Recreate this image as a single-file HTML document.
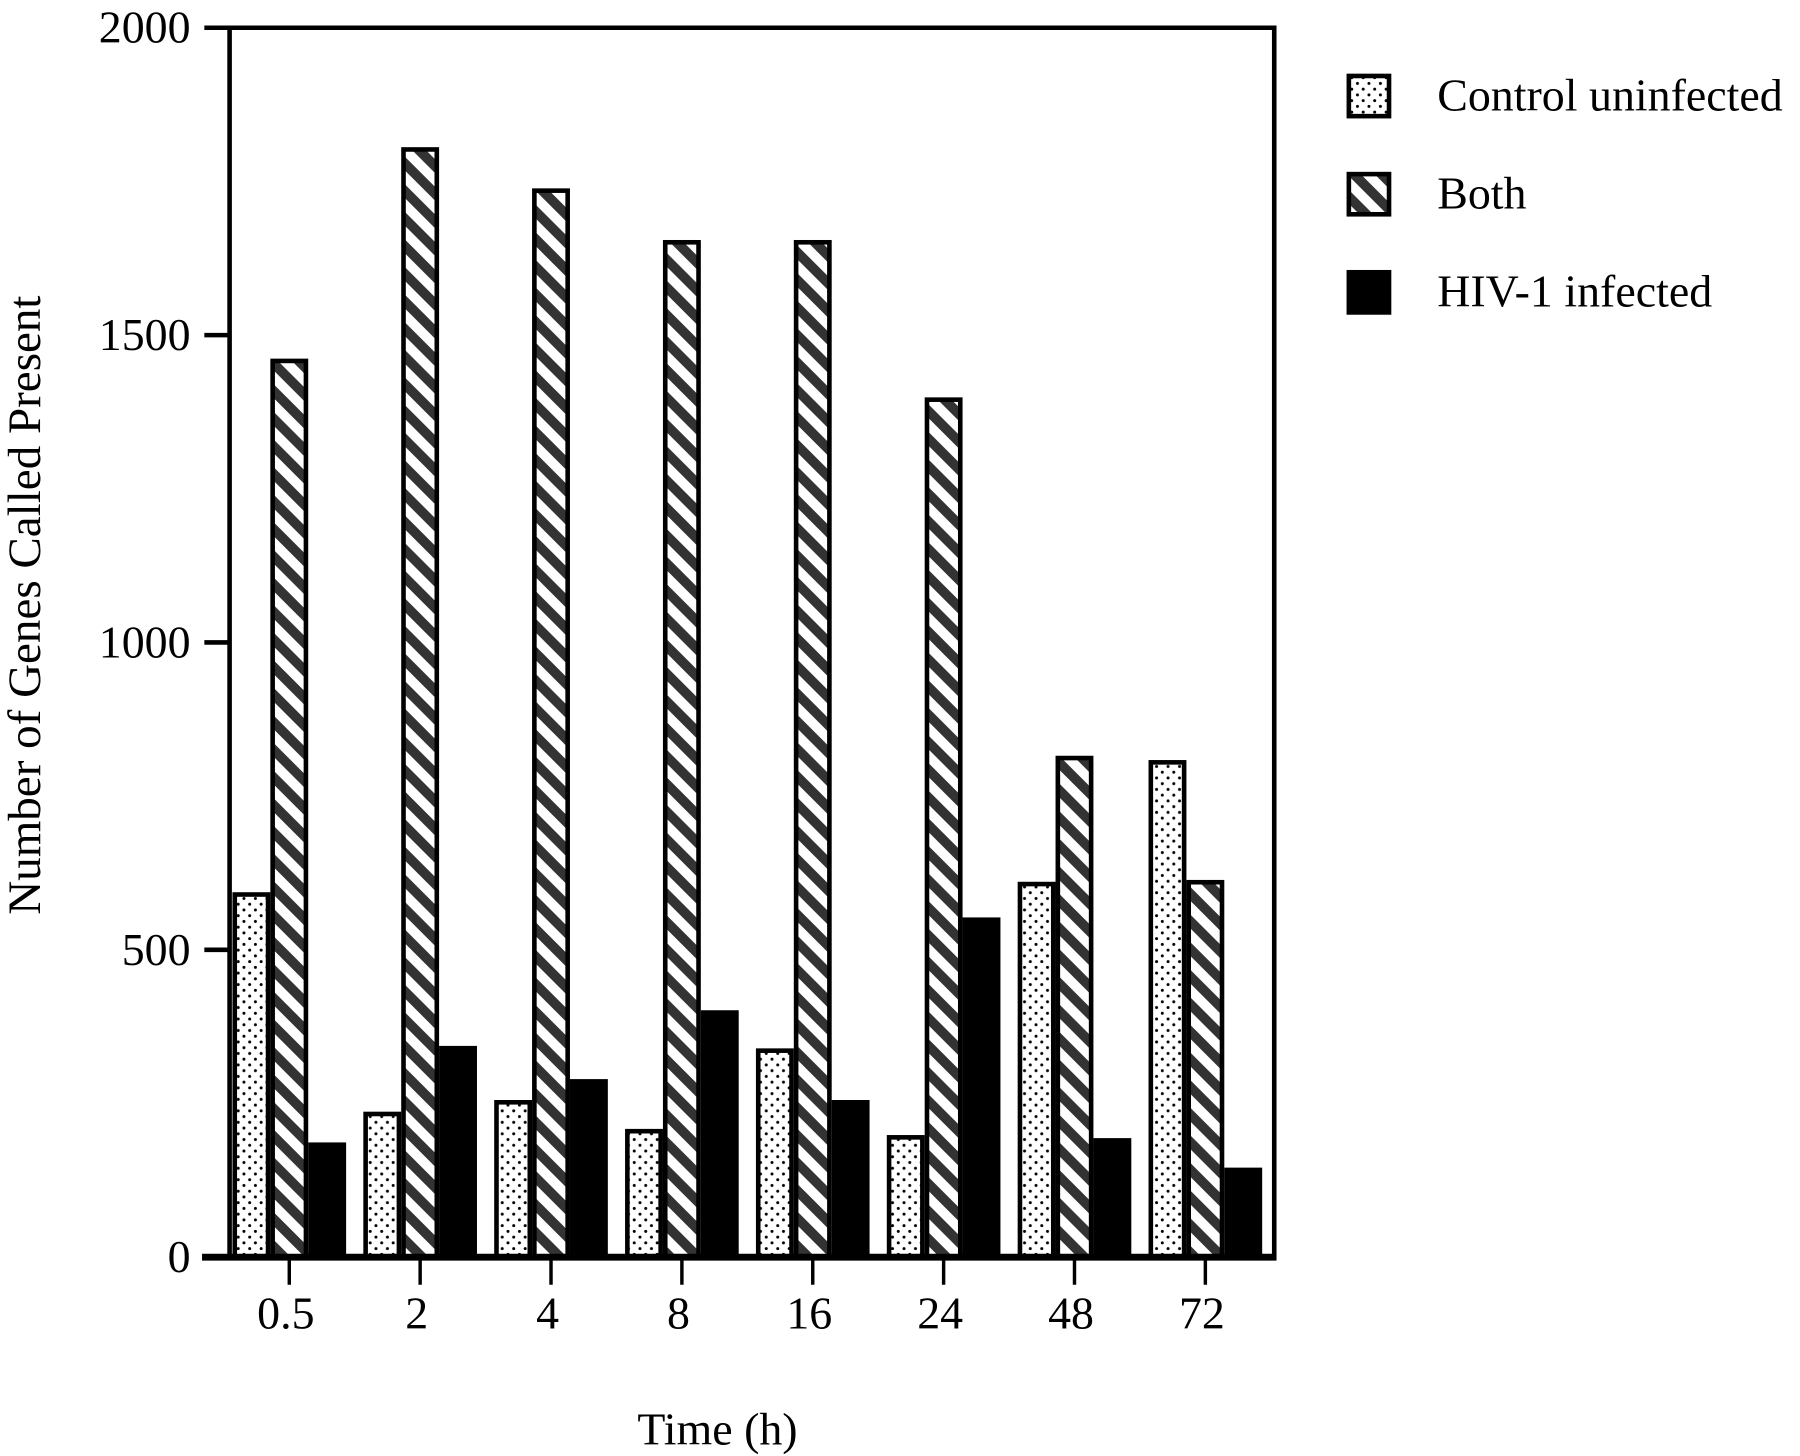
<!DOCTYPE html>
<html><head><meta charset="utf-8"><style>
html,body{margin:0;padding:0;background:#fff;}
svg{display:block;}
text{font-family:"Liberation Serif",serif;fill:#000;}
</style></head><body>
<svg id="chart" width="1800" height="1456" viewBox="0 0 1568 1268" xmlns="http://www.w3.org/2000/svg">
<defs>
<pattern id="dots" patternUnits="userSpaceOnUse" width="10" height="10">
<rect width="10" height="10" fill="#fff"/>
<circle cx="2.5" cy="2.5" r="1.3" fill="#000"/>
<circle cx="7.5" cy="7.5" r="1.3" fill="#000"/>
</pattern>
<pattern id="hatch" patternUnits="userSpaceOnUse" width="17" height="17" patternTransform="rotate(45)">
<rect width="17" height="17" fill="#fff"/>
<rect width="17" height="8.5" fill="#333"/>
</pattern>
</defs>
<g id="plot"></g>
</svg>
<script>
const categories = ["0.5","2","4","8","16","24","48","72"];
const controlValues = [590, 233, 252, 205, 336, 195, 607, 805];
const bothValues = [1458, 1802, 1735, 1651, 1651, 1395, 812, 610];
const hivValues = [183, 340, 286, 398, 252, 549, 190, 142];
const yTicks = [0, 500, 1000, 1500, 2000];
const seriesNames = ["Control uninfected", "Both", "HIV-1 infected"];

const NS = "http://www.w3.org/2000/svg";
const g = document.getElementById('plot');
const X0 = 200, X1 = 1110, Y0 = 1095, Y1 = 24;
const yMax = 2000;
function yScale(v){ return Y0 - v / yMax * (Y0 - Y1); }
function xCenter(i){ return 252 + i * 114; }
function mk(tag, attrs, parent){
  const e = document.createElementNS(NS, tag);
  for (const k in attrs) e.setAttribute(k, attrs[k]);
  (parent || g).appendChild(e);
  return e;
}
const fills = ["url(#dots)", "url(#hatch)", "#000"];
const series = [controlValues, bothValues, hivValues];
const bw = 33;
series.forEach((vals, s) => {
  vals.forEach((v, i) => {
    const x = xCenter(i) - 1.5 * bw + s * bw;
    const y = yScale(v);
    const r = mk('rect', {x: x + 2, y: y, width: bw - 4, height: Y0 - y, fill: fills[s], stroke: '#000', 'stroke-width': 4});
    
    
  });
});
const fr = mk('path', {d: `M${X0} ${Y0} L${X0} ${Y1} L${X1} ${Y1} L${X1} ${Y0}`, fill: 'none', stroke: '#000', 'stroke-width': 4});


const xa = mk('line', {x1: 176, y1: Y0, x2: X1 + 2, y2: Y0, stroke: '#000', 'stroke-width': 6});


yTicks.forEach(t => {
  const y = yScale(t);
  const tl = mk('line', {x1: 178, y1: y, x2: X0, y2: y, stroke: '#000', 'stroke-width': 4});
  
  
  const tx = mk('text', {x: 166, y: y + 13, 'font-size': 40, 'text-anchor': 'end'});
  tx.textContent = t;
  
  
});
categories.forEach((c, i) => {
  const x = xCenter(i);
  const tl = mk('line', {x1: x, y1: Y0, x2: x, y2: 1119, stroke: '#000', 'stroke-width': 3});
  
  
  const tx = mk('text', {x: x - 3, y: 1157, 'font-size': 40, 'text-anchor': 'middle'});
  tx.textContent = c;
  
  
});
const yt = mk('text', {x: 0, y: 0, 'font-size': 41, 'text-anchor': 'middle', transform: 'translate(35 527) rotate(-90)'});
yt.textContent = 'Number of Genes Called Present';


const xt = mk('text', {x: 625, y: 1258, 'font-size': 40, 'text-anchor': 'middle'});
xt.textContent = 'Time (h)';


seriesNames.forEach((n, s) => {
  const y = 64 + s * 85.5;
  const sw = mk('rect', {x: 1175, y: y + 2, width: 35, height: 35, fill: fills[s], stroke: '#000', 'stroke-width': 4});
  
  
  const tx = mk('text', {x: 1252, y: y + 32, 'font-size': 40});
  tx.textContent = n;
  
  
});
</script>
</body></html>
